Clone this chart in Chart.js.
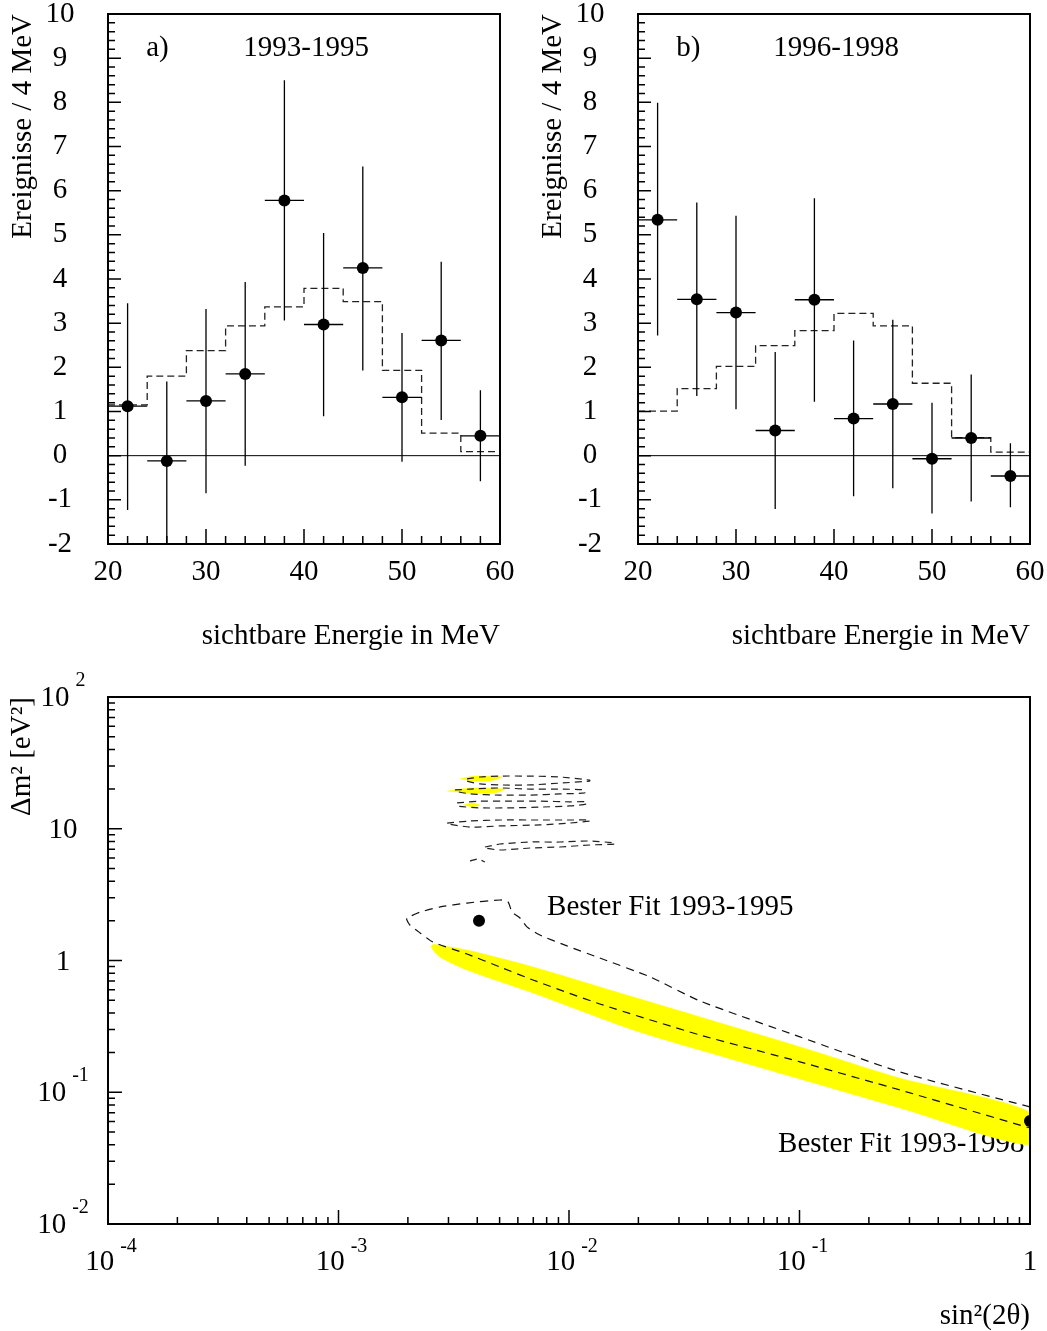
<!DOCTYPE html>
<html>
<head>
<meta charset="utf-8">
<script src="https://cdn.jsdelivr.net/npm/chart.js@4.4.1/dist/chart.umd.min.js"></script>
<style>
  body { margin: 0; background: #fff; width: 1047px; height: 1331px; position: relative; overflow: hidden; }
  .box { position: absolute; }
</style>
</head>
<body>
<div class="box" style="left:0;top:0;width:520px;height:660px"><canvas id="histA"></canvas></div>
<div class="box" style="left:530px;top:0;width:517px;height:660px"><canvas id="histB"></canvas></div>
<div class="box" style="left:0;top:660px;width:1047px;height:671px"><canvas id="exclusion"></canvas></div>
<script>
// energy bins (MeV)
var binEdges = [20, 24, 28, 32, 36, 40, 44, 48, 52, 56, 60];
var binCenters = [22, 26, 30, 34, 38, 42, 46, 50, 54, 58];
var energyTicks = [20, 30, 40, 50, 60];
var countTicks = [-2, -1, 0, 1, 2, 3, 4, 5, 6, 7, 8, 9, 10];

// a) 1993-1995
var eventsA = [1.12, -0.12, 1.24, 1.85, 5.78, 2.97, 4.25, 1.32, 2.61, 0.45];
var errHiA = [3.45, 1.68, 3.32, 3.93, 8.50, 5.04, 6.55, 2.78, 4.39, 1.48];
var errLoA = [-1.23, -2.00, -0.85, -0.23, 3.06, 0.89, 1.93, -0.14, 0.81, -0.58];
var expectA = [1.15, 1.80, 2.38, 2.94, 3.37, 3.79, 3.49, 1.93, 0.51, 0.09];

// b) 1996-1998
var eventsB = [5.34, 3.54, 3.24, 0.57, 3.53, 0.84, 1.17, -0.07, 0.40, -0.46];
var errHiB = [7.99, 5.73, 5.43, 2.35, 5.83, 2.61, 3.08, 1.20, 1.84, 0.28];
var errLoB = [2.72, 1.35, 1.05, -1.21, 1.22, -0.92, -0.74, -1.31, -1.04, -1.17];
var expectB = [1.01, 1.52, 2.02, 2.49, 2.83, 3.22, 2.94, 1.64, 0.41, 0.08];

// exclusion plot: sin^2(2theta) vs dm^2 (eV^2)
var sinTicks = [0.0001, 0.001, 0.01, 0.1, 1];
var sinTickText = [['10', '-4'], ['10', '-3'], ['10', '-2'], ['10', '-1'], ['1', '']];
var dmTicks = [0.01, 0.1, 1, 10, 100];
var dmTickText = [['10', '-2'], ['10', '-1'], ['1', ''], ['10', ''], ['10', '2']];

// yellow band (1993-1998)
var bandSin = [2.57e-3, 3.61e-3, 6.98e-3, 1.90e-2, 3.70e-2, 0.1005, 0.273, 1.0, 1.0, 0.273, 0.1005, 3.70e-2, 1.90e-2, 6.98e-3, 3.61e-3, 2.76e-3, 2.57e-3, 2.52e-3];
var bandDm = [1.33, 1.20, 0.893, 0.528, 0.373, 0.221, 0.128, 0.0708, 0.0398, 0.0760, 0.126, 0.209, 0.297, 0.567, 0.847, 1.06, 1.20, 1.29];

// dashed contour (1993-1995)
var c95Sin = [1.0, 0.273, 0.1005, 3.70e-2, 2.25e-2, 1.36e-2, 9.80e-3, 7.48e-3, 6.57e-3, 6.13e-3, 5.66e-3, 5.44e-3, 5.02e-3, 3.61e-3, 2.76e-3, 2.26e-3, 1.98e-3,
              1.98e-3, 2.04e-3, 2.26e-3, 2.57e-3, 3.61e-3, 5.02e-3, 6.98e-3, 1.36e-2, 3.70e-2, 0.1005, 0.273, 1.0];
var c95Dm = [0.0773, 0.1425, 0.263, 0.493, 0.750, 1.045, 1.29, 1.56, 1.80, 2.10, 2.33, 2.78, 2.88, 2.73, 2.55, 2.33, 2.10,
             2.03, 1.86, 1.62, 1.38, 1.12, 0.893, 0.711, 0.468, 0.272, 0.170, 0.104, 0.0535];

// dashed islands at large dm^2
var islandSin = [
  [3.61e-3, 4.11e-3, 5.02e-3, 6.77e-3, 9.14e-3, 1.23e-2, 1.23e-2, 9.14e-3, 6.77e-3, 5.02e-3, 4.11e-3, 3.61e-3, 3.61e-3],
  [3.20e-3, 3.72e-3, 5.02e-3, 6.77e-3, 9.14e-3, 1.17e-2, 1.17e-2, 9.14e-3, 6.77e-3, 5.02e-3, 3.72e-3, 3.20e-3, 3.20e-3],
  [3.27e-3, 4.11e-3, 5.55e-3, 7.48e-3, 1.01e-2, 1.19e-2, 1.19e-2, 1.01e-2, 7.48e-3, 5.55e-3, 4.11e-3, 3.27e-3, 3.27e-3],
  [2.96e-3, 3.72e-3, 5.02e-3, 7.48e-3, 1.01e-2, 1.23e-2, 1.23e-2, 1.01e-2, 7.48e-3, 5.02e-3, 3.72e-3, 2.96e-3, 2.96e-3],
  [4.32e-3, 5.02e-3, 6.77e-3, 9.14e-3, 1.23e-2, 1.58e-2, 1.58e-2, 1.23e-2, 9.14e-3, 6.77e-3, 5.02e-3, 4.32e-3, 4.32e-3],
  [3.72e-3, 4.03e-3, 4.32e-3]
];
var islandDm = [
  [23.9, 24.7, 25.1, 25.1, 24.7, 23.4, 23.0, 22.2, 21.5, 21.5, 21.9, 23.0, 23.9],
  [19.7, 20.0, 20.4, 20.0, 20.0, 19.7, 18.7, 18.4, 18.0, 18.0, 18.4, 19.3, 19.7],
  [15.7, 16.2, 16.2, 16.2, 16.0, 16.0, 15.4, 14.9, 14.6, 14.4, 14.4, 14.9, 15.7],
  [11.05, 11.45, 11.65, 11.65, 11.65, 11.65, 11.45, 11.05, 10.7, 10.5, 10.3, 10.9, 11.05],
  [7.27, 7.66, 7.93, 7.93, 8.07, 7.80, 7.66, 7.53, 7.27, 7.14, 6.90, 7.14, 7.27],
  [5.69, 5.89, 5.59]
];

// small yellow patches
var patchSin = [
  [3.37e-3, 3.91e-3, 5.12e-3, 4.54e-3, 3.72e-3],
  [2.96e-3, 3.72e-3, 5.28e-3, 4.77e-3, 3.54e-3],
  [3.47e-3, 3.79e-3, 4.11e-3, 3.79e-3]
];
var patchDm = [
  [23.9, 25.1, 24.7, 23.0, 23.0],
  [19.3, 20.4, 20.0, 18.7, 18.7],
  [15.1, 15.7, 15.1, 14.6]
];

// best fits
var fitSin = [4.07e-3, 1.0];
var fitDm = [2.0, 0.0605];

var FONT = '"Liberation Serif", "Times New Roman", serif';
Chart.defaults.font.family = FONT;
Chart.defaults.font.size = 29;
Chart.defaults.color = '#000';

function zip(xs, ys) {
  return xs.map(function (x, i) { return {x: x, y: ys[i]}; });
}

function errorBars(vals, lo, hi) {
  var d = [];
  for (var i = 0; i < binCenters.length; i++) {
    d.push({x: binCenters[i], y: lo[i]}, {x: binCenters[i], y: hi[i]}, {x: binCenters[i], y: null});
    d.push({x: binEdges[i], y: vals[i]}, {x: binEdges[i + 1], y: vals[i]}, {x: binCenters[i], y: null});
  }
  return d;
}

function histSteps(expect) {
  return binEdges.map(function (e, i) { return {x: e, y: expect[Math.min(i, expect.length - 1)]}; });
}

var histFrame = {
  id: 'histFrame',
  afterDatasetsDraw: function (chart, args, o) {
    var c = chart.ctx, a = chart.chartArea, xs = chart.scales.x, ys = chart.scales.y;
    c.save();
    c.strokeStyle = '#000';
    c.lineWidth = 1.5;
    c.beginPath();
    for (var v = 22; v < 60; v += 2) {
      var px = xs.getPixelForValue(v), len = v % 10 === 0 ? 15 : 8;
      c.moveTo(px, a.bottom); c.lineTo(px, a.bottom - len);
    }
    for (var k = -9; k < 50; k++) {
      var py = ys.getPixelForValue(k / 5), len2 = k % 5 === 0 ? 13 : 7;
      c.moveTo(a.left, py); c.lineTo(a.left + len2, py);
    }
    c.stroke();
    c.lineWidth = 2;
    c.strokeRect(a.left, a.top, a.right - a.left, a.bottom - a.top);
    c.font = '29px ' + FONT;
    c.fillStyle = '#000';
    c.textBaseline = 'middle';
    c.textAlign = 'center';
    countTicks.forEach(function (t) { c.fillText(String(t), a.left - 48, ys.getPixelForValue(t)); });
    energyTicks.forEach(function (t) { c.fillText(String(t), xs.getPixelForValue(t), a.bottom + 28); });
    c.textBaseline = 'alphabetic';
    c.textAlign = 'left';
    c.fillText(o.tag, xs.getPixelForValue(23.9), ys.getPixelForValue(9.05));
    c.fillText(o.period, xs.getPixelForValue(33.8), ys.getPixelForValue(9.05));
    c.restore();
  }
};

function histChart(id, vals, lo, hi, expect, tag, period, padRight) {
  return new Chart(document.getElementById(id), {
    type: 'scatter',
    data: {
      datasets: [
        {data: zip(binCenters, vals), pointRadius: 6, pointBackgroundColor: '#000', pointBorderWidth: 0, showLine: false},
        {data: errorBars(vals, lo, hi), showLine: true, borderColor: '#000', borderWidth: 1.3, pointRadius: 0, spanGaps: false},
        {data: histSteps(expect), showLine: true, stepped: 'before', borderColor: '#222', borderWidth: 1.3, borderDash: [7, 4], pointRadius: 0},
        {data: [{x: 20, y: 0}, {x: 60, y: 0}], showLine: true, borderColor: '#000', borderWidth: 1, pointRadius: 0}
      ]
    },
    options: {
      responsive: true,
      maintainAspectRatio: false,
      animation: false,
      layout: {padding: {left: 0, top: 14, right: padRight, bottom: 0}},
      plugins: {legend: {display: false}, tooltip: {enabled: false}, histFrame: {tag: tag, period: period}},
      scales: {
        x: {
          type: 'linear', min: 20, max: 60,
          grid: {display: false, drawTicks: false}, border: {display: false},
          ticks: {display: false},
          title: {display: true, text: 'sichtbare Energie in MeV', align: 'end', padding: {top: 0, bottom: 6}},
          afterFit: function (s) { s.height = 116; }
        },
        y: {
          type: 'linear', min: -2, max: 10,
          grid: {display: false, drawTicks: false}, border: {display: false},
          ticks: {display: false},
          title: {display: true, text: 'Ereignisse / 4 MeV', align: 'end', padding: {top: 6, bottom: 0}},
          afterFit: function (s) { s.width = 108; }
        }
      }
    },
    plugins: [histFrame]
  });
}

histChart('histA', eventsA, errLoA, errHiA, expectA, 'a)', '1993-1995', 20);
histChart('histB', eventsB, errLoB, errHiB, expectB, 'b)', '1996-1998', 17);

function drawPow(c, base, exp, cx, baseY, supDy) {
  c.font = '29px ' + FONT;
  var wb = c.measureText(base).width;
  c.font = '20px ' + FONT;
  var we = exp ? c.measureText(exp).width + 6 : 0;
  var x0 = cx - (wb + we) / 2;
  c.font = '29px ' + FONT;
  c.fillText(base, x0, baseY);
  if (exp) {
    c.font = '20px ' + FONT;
    c.fillText(exp, x0 + wb + 6, baseY - supDy);
  }
}

var logFrame = {
  id: 'logFrame',
  beforeDatasetsDraw: function (chart) {
    var c = chart.ctx, xs = chart.scales.x, ys = chart.scales.y;
    c.save();
    c.font = '29px ' + FONT;
    c.fillStyle = '#000';
    c.textAlign = 'left';
    c.textBaseline = 'alphabetic';
    c.fillText('Bester Fit 1993-1995', xs.getPixelForValue(8.03e-3), ys.getPixelForValue(2.215));
    c.fillText('Bester Fit 1993-1998', xs.getPixelForValue(0.0807), ys.getPixelForValue(0.0352));
    c.restore();
  },
  afterDatasetsDraw: function (chart) {
    var c = chart.ctx, a = chart.chartArea, xs = chart.scales.x, ys = chart.scales.y;
    c.save();
    c.strokeStyle = '#000';
    c.lineWidth = 1.5;
    c.beginPath();
    for (var e = -4; e <= 0; e++) {
      for (var m = 1; m <= 9; m++) {
        var v = m * Math.pow(10, e);
        if (v > 1.0001) break;
        var px = xs.getPixelForValue(v), len = m === 1 ? 14 : 7;
        c.moveTo(px, a.bottom); c.lineTo(px, a.bottom - len);
      }
    }
    for (var f = -2; f <= 2; f++) {
      for (var n = 1; n <= 9; n++) {
        var w = n * Math.pow(10, f);
        if (w > 100.001) break;
        var py = ys.getPixelForValue(w), len2 = n === 1 ? 14 : 7;
        c.moveTo(a.left, py); c.lineTo(a.left + len2, py);
      }
    }
    c.stroke();
    c.lineWidth = 2;
    c.strokeRect(a.left, a.top, a.right - a.left, a.bottom - a.top);
    c.fillStyle = '#000';
    c.textAlign = 'left';
    c.textBaseline = 'alphabetic';
    sinTicks.forEach(function (t, i) {
      var lab = sinTickText[i];
      drawPow(c, lab[0], lab[1], xs.getPixelForValue(t) + (lab[1] ? 3 : 0), a.bottom + 46, 18);
    });
    dmTicks.forEach(function (t, i) {
      var lab = dmTickText[i];
      drawPow(c, lab[0], lab[1], 63, ys.getPixelForValue(t) + 9, 20);
    });
    c.restore();
  }
};

var datasets = [
  {data: zip(fitSin, fitDm), pointRadius: 6, pointBackgroundColor: '#000', pointBorderWidth: 0, showLine: false, clip: 0}
];
datasets.push({data: zip(c95Sin, c95Dm), showLine: true, borderColor: '#111', borderWidth: 1.2, borderDash: [8, 6], pointRadius: 0, tension: 0.2, clip: 0});
islandSin.forEach(function (xs, i) {
  datasets.push({data: zip(xs, islandDm[i]), showLine: true, borderColor: '#222', borderWidth: 1.2, borderDash: [7, 5], pointRadius: 0, tension: 0.2, clip: 0});
});
patchSin.forEach(function (xs, i) {
  datasets.push({data: zip(xs, patchDm[i]), showLine: true, fill: 'shape', backgroundColor: '#ffff00', borderColor: '#ffff00', borderWidth: 0.5, pointRadius: 0, tension: 0.2, clip: 0});
});
datasets.push({data: zip(bandSin, bandDm), showLine: true, fill: 'shape', backgroundColor: '#ffff00', borderColor: '#ffff00', borderWidth: 0.5, pointRadius: 0, tension: 0.25, clip: 0});

new Chart(document.getElementById('exclusion'), {
  type: 'scatter',
  data: {datasets: datasets},
  options: {
    responsive: true,
    maintainAspectRatio: false,
    animation: false,
    layout: {padding: {left: 0, top: 37, right: 17, bottom: 0}},
    plugins: {legend: {display: false}, tooltip: {enabled: false}},
    scales: {
      x: {
        type: 'logarithmic', min: 0.0001, max: 1,
        grid: {display: false, drawTicks: false}, border: {display: false},
        ticks: {display: false},
        title: {display: true, text: 'sin²(2θ)', align: 'end', font: {size: 29, lineHeight: 1}, padding: {top: 0, bottom: 0}},
        afterFit: function (s) { s.height = 107; }
      },
      y: {
        type: 'logarithmic', min: 0.01, max: 100,
        grid: {display: false, drawTicks: false}, border: {display: false},
        ticks: {display: false},
        title: {display: true, text: 'Δm² [eV²]', align: 'end', padding: {top: 5, bottom: 0}},
        afterFit: function (s) { s.width = 108; }
      }
    }
  },
  plugins: [logFrame]
});
</script>
</body>
</html>
